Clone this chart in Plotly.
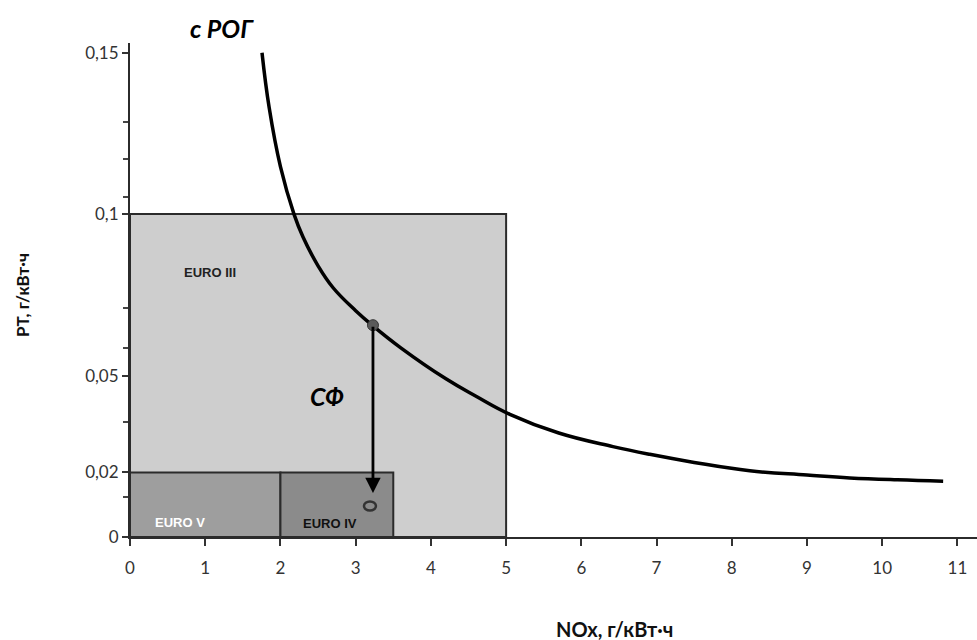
import plotly.graph_objects as go

# ---- data ----
curve_x = [1.755, 1.85, 2.0, 2.18, 2.3, 2.5, 2.7, 3.0, 3.22, 3.6, 4.2, 4.6, 5.05, 5.7, 6.42, 6.91, 7.5, 8.24, 9.0, 9.57, 10.2, 10.81]
curve_y = [0.150, 0.133, 0.1147, 0.100, 0.0929, 0.0840, 0.0772, 0.0701, 0.0656, 0.0586, 0.0490, 0.0436, 0.0380, 0.0322, 0.0280, 0.0256, 0.0231, 0.0205, 0.0192, 0.0183, 0.0177, 0.0173]

# Euro norm boxes: name, NOx from, NOx to, PT limit
euro_names = ["EURO III", "EURO V", "EURO IV"]
euro_nox_from = [0, 0, 2]
euro_nox_to = [5, 2, 3.5]
euro_pt = [0.1, 0.02, 0.02]
euro_fill = ["#cecece", "#9e9e9e", "#8b8b8b"]
euro_label_x = [1.06, 0.66, 2.66]
euro_label_y = [0.082, 0.0046, 0.0043]
euro_label_color = ["#222222", "#ffffff", "#111111"]

# DPF (СФ) arrow: from curve point down to result
dpf_x = 3.23
dpf_from = 0.0656
dpf_to = 0.0136
result_x = [3.19]
result_y = [0.0096]

x_ticks = list(range(0, 12))
y_ticks = [0, 0.02, 0.05, 0.1, 0.15]
y_tick_text = ["0", "0,02", "0,05", "0,1", "0,15"]
y_minor = [0.0124, 0.0356, 0.0585, 0.0709, 0.1053, 0.117, 0.1285]

W, H = 977, 640
ML, MR, MT, MB = 130, 0, 43, 103
PW, PH = W - ML - MR, H - MT - MB


def px(x):
    return (x - ML) / PW


def py(y):
    return (H - MB - y) / PH


fig = go.Figure()

shapes = []
for i in range(len(euro_names)):
    shapes.append(dict(type="rect", xref="x", yref="y",
                       x0=euro_nox_from[i], x1=euro_nox_to[i], y0=0, y1=euro_pt[i],
                       fillcolor=euro_fill[i], line=dict(color="#2b2b2b", width=2),
                       layer="below"))
# result ellipse
shapes.append(dict(type="circle", xref="x", yref="y", xsizemode="pixel", ysizemode="pixel",
                   xanchor=result_x[0], yanchor=result_y[0], x0=-6, x1=6, y0=-4.5, y1=4.5,
                   line=dict(color="#333333", width=2.5), fillcolor="rgba(0,0,0,0)"))

fig.add_trace(go.Scatter(x=curve_x, y=curve_y, mode="lines",
                         line=dict(color="#000000", width=3.5, shape="spline", smoothing=1.2),
                         hoverinfo="skip", showlegend=False))
fig.add_trace(go.Scatter(x=[dpf_x], y=[dpf_from], mode="markers",
                         marker=dict(size=11, color="#5a5a5a", line=dict(color="#333", width=1)),
                         hoverinfo="skip", showlegend=False))

annotations = []
for i in range(len(euro_names)):
    annotations.append(dict(x=euro_label_x[i], y=euro_label_y[i], xref="x", yref="y",
                            text="<b>" + euro_names[i] + "</b>", showarrow=False,
                            font=dict(family="Liberation Sans Narrow, Liberation Sans, Arial", size=13,
                                      color=euro_label_color[i])))
annotations.append(dict(x=dpf_x, y=dpf_to, ax=dpf_x, ay=dpf_from, xref="x", yref="y",
                        axref="x", ayref="y", showarrow=True, arrowhead=2, arrowsize=1.1,
                        arrowwidth=2.8, arrowcolor="#000000", text=""))
annotations.append(dict(x=2.62, y=0.0437, xref="x", yref="y", text="<b><i>СФ</i></b>",
                        showarrow=False, font=dict(family="Lato, Noto Sans", size=25, color="#000")))
annotations.append(dict(x=px(222), y=py(28), xref="paper", yref="paper",
                        xanchor="center", yanchor="middle",
                        text="<b><i>с РОГ</i></b>", showarrow=False,
                        font=dict(family="Lato, Noto Sans", size=25, color="#000")))
annotations.append(dict(x=px(614), y=py(629), xref="paper", yref="paper",
                        xanchor="center", yanchor="middle",
                        text="<b>NOx, г/кВт·ч</b>", showarrow=False,
                        font=dict(family="Lato, Noto Sans", size=20, color="#111")))
annotations.append(dict(x=px(22), y=py(295), xref="paper", yref="paper",
                        xanchor="center", yanchor="middle",
                        text="<b>PT, г/кВт·ч</b>", showarrow=False, textangle=-90,
                        font=dict(family="Lato, Noto Sans", size=17, color="#111")))

fig.update_layout(
    width=W, height=H,
    margin=dict(l=ML, r=MR, t=MT, b=MB),
    paper_bgcolor="#ffffff", plot_bgcolor="#ffffff",
    showlegend=False,
    shapes=shapes,
    annotations=annotations,
    xaxis=dict(range=[0, 11.26], tickvals=x_ticks, ticktext=[str(v) for v in x_ticks],
               showgrid=False, zeroline=False, showline=True, linecolor="#2b2b2b", linewidth=2,
               ticks="outside", ticklen=7, tickwidth=2, tickcolor="#333",
               ticklabelstandoff=8,
               tickfont=dict(family="Lato, Noto Sans", size=17, color="#333")),
    yaxis=dict(range=[0, 0.153], tickvals=y_ticks, ticktext=y_tick_text,
               showgrid=False, zeroline=False, showline=True, linecolor="#2b2b2b", linewidth=2,
               ticks="outside", ticklen=6, tickwidth=2, tickcolor="#333",
               minor=dict(tickmode="array", tickvals=y_minor, ticks="outside", ticklen=5,
                          tickwidth=2, tickcolor="#444"),
               tickfont=dict(family="Lato, Noto Sans", size=17, color="#333")),
)

fig.write_html("out.html")
